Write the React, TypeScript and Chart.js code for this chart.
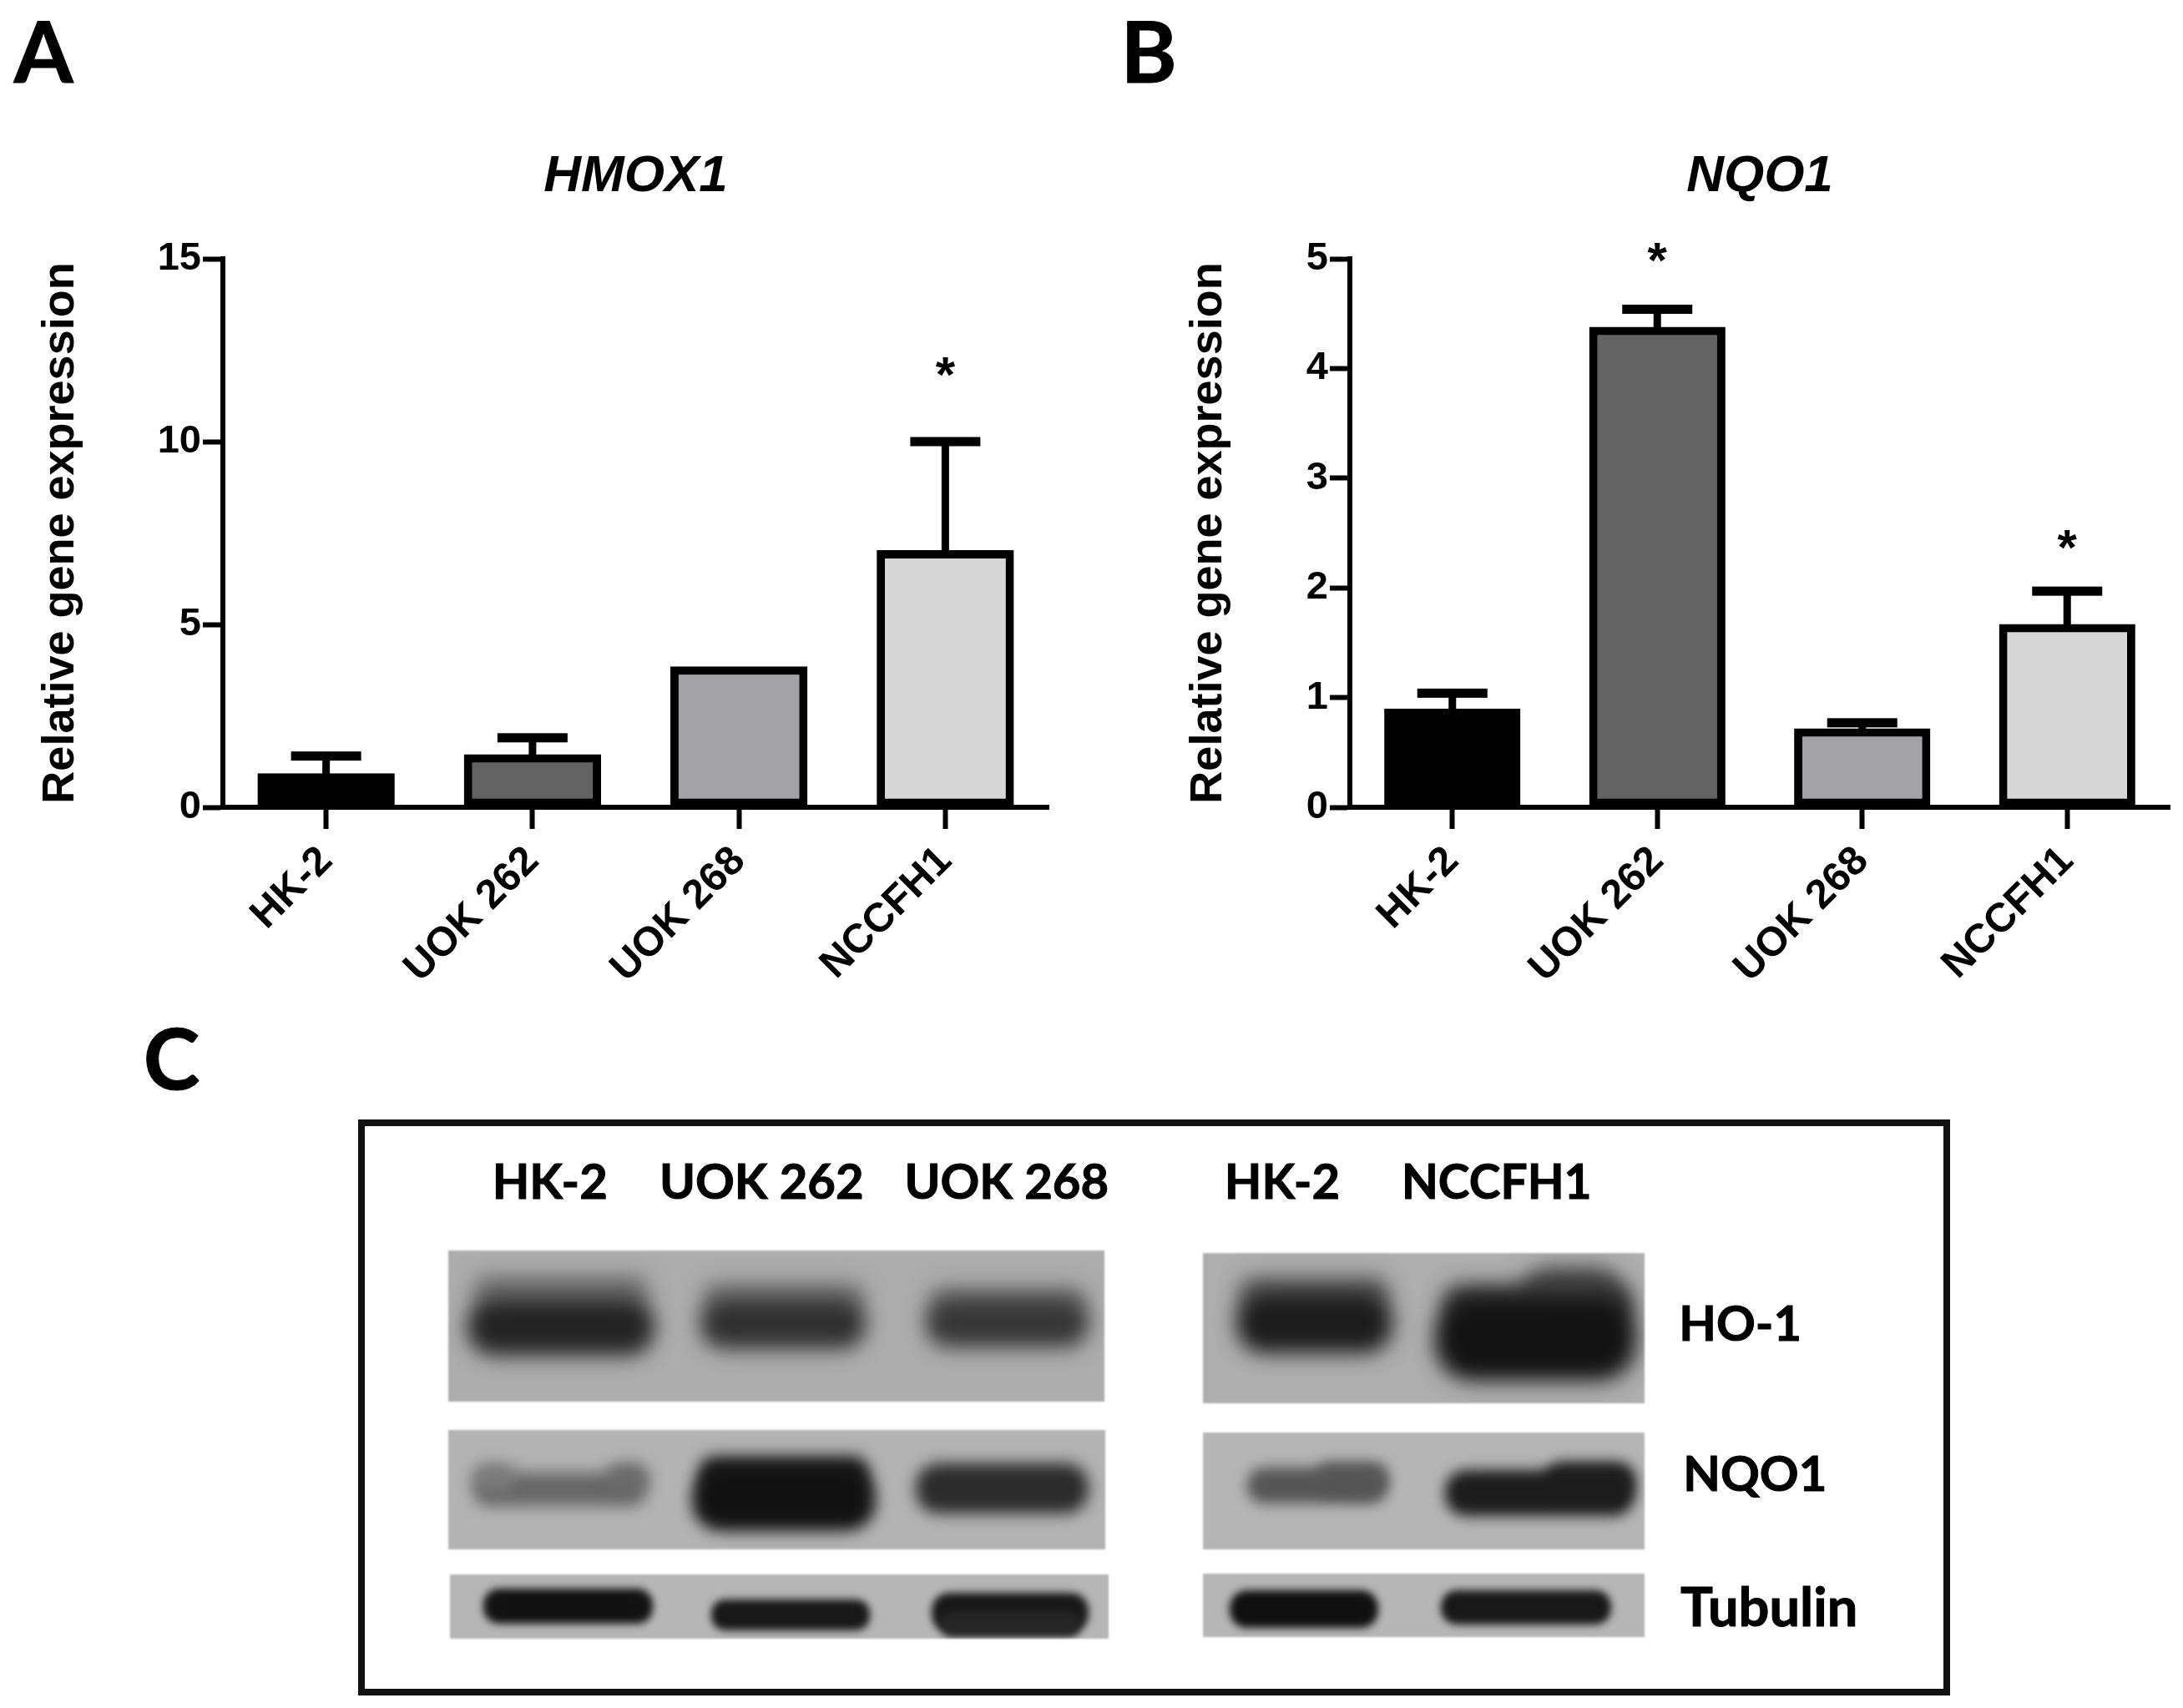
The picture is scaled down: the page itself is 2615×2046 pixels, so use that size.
import React, { useEffect, useRef } from "react";
import { Chart, registerables } from "chart.js";

Chart.register(...registerables);

const categories = ["HK-2", "UOK 262", "UOK 268", "NCCFH1"];
const barColors = ["#000000", "#636363", "#a3a2a6", "#d7d7d7"];

const hmox1Values = [0.93, 1.45, 3.85, 7.03];
const hmox1Upper = [1.4, 1.9, 3.85, 10.0];
const hmox1Stars = [null, null, null, 11.95];
const hmox1Ticks = [0, 5, 10, 15];

const nqo1Values = [0.9, 4.38, 0.72, 1.67];
const nqo1Upper = [1.04, 4.54, 0.77, 1.97];
const nqo1Stars = [null, 5.03, null, 2.41];
const nqo1Ticks = [0, 1, 2, 3, 4, 5];

const yAxisTitle = "Relative gene expression";
const ARIAL = "'Liberation Sans', Arial, sans-serif";
const CALIBRI = "Lato, 'Open Sans', sans-serif";
const S = 2615 / 1568;

const errorBars = {
  id: "errorBars",
  beforeDatasetsDraw(chart: any, _a: any, opts: any) {
    const { ctx, scales } = chart;
    ctx.save();
    ctx.fillStyle = "#000";
    opts.upper.forEach((u: number, i: number) => {
      const v = chart.data.datasets[0].data[i];
      if (u <= v) return;
      const x = scales.x.getPixelForValue(i);
      const yu = scales.y.getPixelForValue(u);
      const yv = scales.y.getPixelForValue(v);
      ctx.fillRect(x - 4.5, yu, 9, yv - yu + 5);
      ctx.fillRect(x - 42, yu - 5.5, 84, 11);
    });
    // solid backing under each bar so no seam shows between its fill and border
    chart.getDatasetMeta(0).data.forEach((b: any, i: number) => {
      ctx.fillStyle = barColors[i];
      ctx.fillRect(b.x - b.width / 2 + 2, b.y + 2, b.width - 4, b.base - b.y - 4);
    });
    ctx.restore();
  },
  afterDatasetsDraw(chart: any, _a: any, opts: any) {
    const { ctx, scales, chartArea } = chart;
    ctx.save();
    ctx.fillStyle = "#000";
    ctx.textAlign = "center";
    ctx.textBaseline = "middle";
    ctx.font = `italic bold 62px ${ARIAL}`;
    ctx.fillText(opts.title, (chartArea.left + chartArea.right) / 2, 212);
    ctx.font = `bold 60px ${ARIAL}`;
    opts.stars.forEach((s: number | null, i: number) => {
      if (s == null) return;
      ctx.fillText("*", scales.x.getPixelForValue(i), scales.y.getPixelForValue(s) + 9);
    });
    ctx.restore();
  },
};

type PanelProps = {
  title: string;
  values: number[];
  upper: number[];
  stars: (number | null)[];
  ticks: number[];
  left: number;
  axisLeft: number;
  plotWidth: number;
  titleCenter: number;
};

function BarPanel(p: PanelProps) {
  const ref = useRef<HTMLCanvasElement>(null);
  useEffect(() => {
    const H = 1210;
    const top = 310;
    const bottom = 967;
    const chart = new Chart(ref.current!, {
      type: "bar",
      data: {
        labels: categories,
        datasets: [
          {
            data: p.values,
            backgroundColor: barColors,
            borderColor: "#000",
            borderWidth: 10,
            borderSkipped: false,
            barPercentage: 0.665,
            categoryPercentage: 1,
          },
        ],
      },
      plugins: [errorBars],
      options: {
        responsive: false,
        animation: false,
        layout: { padding: { left: 0, right: 8, top, bottom: 0 } },
        plugins: {
          legend: { display: false },
          tooltip: { enabled: false },
          title: { display: false },
          errorBars: { upper: p.upper, stars: p.stars, title: p.title },
        } as any,
        scales: {
          x: {
            type: "category",
            offset: true,
            afterFit: (s: any) => {
              s.height = H - bottom;
            },
            border: { display: true, width: 6, color: "#000" },
            grid: { offset: false, drawOnChartArea: false, drawTicks: true, tickLength: 26, tickWidth: 6, tickColor: "#000" },
            ticks: {
              color: "#000",
              maxRotation: 45,
              minRotation: 45,
              autoSkip: false,
              padding: 10,
              font: { family: ARIAL, size: 49, weight: "bold" },
            },
          },
          y: {
            type: "linear",
            min: 0,
            max: p.ticks[p.ticks.length - 1],
            afterFit: (s: any) => {
              s.width = p.axisLeft - p.left;
            },
            afterBuildTicks: (s: any) => {
              s.ticks = p.ticks.map((v) => ({ value: v }));
            },
            border: { display: true, width: 6, color: "#000" },
            grid: { drawOnChartArea: false, drawTicks: true, tickLength: 24, tickWidth: 6, tickColor: "#000" },
            ticks: {
              color: "#000",
              padding: 2,
              font: { family: ARIAL, size: 47, weight: "bold" },
            },
            title: {
              display: true,
              text: yAxisTitle,
              color: "#000",
              font: { family: ARIAL, size: 54, weight: "bold", lineHeight: 1.2 },
              padding: { top: p.titleCenter - p.left - 32, bottom: 0 },
            },
          },
        },
      } as any,
    });
    return () => chart.destroy();
  }, []);
  return (
    <canvas
      ref={ref}
      width={p.axisLeft - p.left + p.plotWidth + 8}
      height={1210}
      style={{ position: "absolute", left: p.left, top: 0 }}
    />
  );
}

// Western-blot picture of panel C, in units of the 1568-wide layout
type Band = [number, number, number, number, string];
type Strip = { x: number; y: number; w: number; h: number; bg: string; blur: number; bands: Band[] };
const strips: Strip[] = [
  { x: 322, y: 898, w: 471, h: 109, bg: "#adadad", blur: 12, bands: [
    [340, 916, 126, 22, "#6e6e6e"], [336, 932, 134, 42, "#242424"],
    [505, 921, 116, 20, "#777777"], [503, 932, 119, 37, "#303030"],
    [668, 924, 112, 20, "#7a7a7a"], [665, 932, 117, 36, "#363636"],
  ] },
  { x: 322, y: 1027, w: 472, h: 86, bg: "#b3b3b3", blur: 9, bands: [
    [340, 1058, 124, 24, "#666666"], [340, 1051, 30, 20, "#7b7b7b"], [436, 1051, 30, 20, "#6a6a6a"],
    [502, 1046, 122, 26, "#1f1f1f"], [497, 1054, 132, 46, "#121212"],
    [658, 1051, 124, 36, "#2b2b2b"],
  ] },
  { x: 323, y: 1131, w: 473, h: 46, bg: "#b6b6b6", blur: 5, bands: [
    [347, 1141, 122, 25, "#121212"], [511, 1149, 114, 22, "#181818"], [669, 1144, 113, 28, "#181818"], [676, 1158, 100, 18, "#262626"],
  ] },
  { x: 864, y: 900, w: 317, h: 108, bg: "#aeaeae", blur: 12, bands: [
    [890, 917, 108, 24, "#5c5c5c"], [888, 928, 112, 44, "#1c1c1c"],
    [1092, 910, 74, 46, "#454545"], [1036, 922, 136, 30, "#3a3a3a"], [1031, 932, 144, 60, "#131313"],
  ] },
  { x: 864, y: 1029, w: 317, h: 84, bg: "#b5b5b5", blur: 8, bands: [
    [945, 1050, 52, 24, "#626262"], [896, 1054, 100, 26, "#555555"], [1110, 1050, 64, 26, "#262626"], [1038, 1056, 136, 33, "#1c1c1c"],
  ] },
  { x: 864, y: 1130, w: 317, h: 46, bg: "#b6b6b6", blur: 5, bands: [
    [883, 1142, 107, 27, "#101010"], [1035, 1142, 122, 25, "#181818"],
  ] },
];

type Lab = [string, number, number, "center" | "left", number];
const blotLabels: Lab[] = [
  ["HK-2", 395, 848, "center", 58],
  ["UOK 262", 547, 848, "center", 58],
  ["UOK 268", 723, 848, "center", 58],
  ["HK-2", 921, 848, "center", 58],
  ["NCCFH1", 1075, 848, "center", 57],
  ["HO-1", 1206, 950, "left", 58],
  ["NQO1", 1209, 1058, "left", 58],
  ["Tubulin", 1207, 1153, "left", 65],
];
const panelLetters: [string, number, number][] = [
  ["A", 10, 36],
  ["B", 805, 36],
  ["C", 103, 759],
];

function Text({ t, x, y, size, align }: { t: string; x: number; y: number; size: number; align: "center" | "left" }) {
  return (
    <div
      style={{
        position: "absolute",
        left: x * S,
        top: y * S,
        transform: align === "center" ? "translate(-50%,-50%)" : "translate(0,-50%)",
        font: `bold ${size}px ${CALIBRI}`,
        color: "#000",
        whiteSpace: "nowrap",
        lineHeight: 1,
        WebkitTextStroke: "1px #000",
      }}
    >
      {t}
    </div>
  );
}

export default function App() {
  return (
    <div style={{ position: "absolute", left: 0, top: 0, width: 2615, height: 2046, background: "#fff", overflow: "hidden" }}>
      <BarPanel title="HMOX1" values={hmox1Values} upper={hmox1Upper} stars={hmox1Stars} ticks={hmox1Ticks}
        left={0} axisLeft={267} plotWidth={989} titleCenter={73} />
      <BarPanel title="NQO1" values={nqo1Values} upper={nqo1Upper} stars={nqo1Stars} ticks={nqo1Ticks}
        left={1300} axisLeft={1617} plotWidth={982} titleCenter={1448} />
      {panelLetters.map(([t, x, y]) => (
        <Text key={t} t={t} x={x} y={y} size={102} align="left" />
      ))}
      <div style={{ position: "absolute", left: 257 * S, top: 804 * S, width: 1144 * S, height: 414 * S, border: "8px solid #111", boxSizing: "border-box" }} />
      {strips.map((s, i) => (
        <div key={i} style={{ position: "absolute", left: s.x * S, top: s.y * S, width: s.w * S, height: s.h * S, background: s.bg, overflow: "hidden", filter: "blur(1px)" }}>
          {s.bands.map(([x, y, w, h, c], j) => (
            <div key={j} style={{ position: "absolute", left: (x - s.x) * S, top: (y - s.y) * S, width: w * S, height: h * S, background: c, borderRadius: (h * S) / 2.2, filter: `blur(${s.blur}px)` }} />
          ))}
        </div>
      ))}
      {blotLabels.map(([t, x, y, a, sz], i) => (
        <Text key={i} t={t} x={x} y={y} size={sz} align={a} />
      ))}
    </div>
  );
}
